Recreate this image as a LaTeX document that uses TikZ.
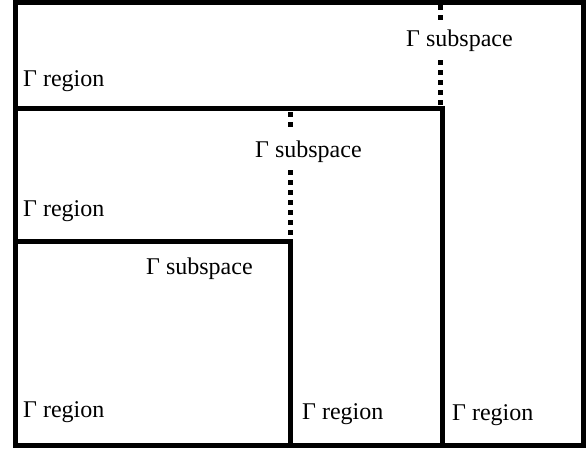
\documentclass[tikz,border=0pt]{standalone}
\usepackage{fontspec}
\setmainfont{Liberation Serif}
\begin{document}
\begin{tikzpicture}[x=1pt,y=-1pt,
  frame/.style={line width=5pt,line cap=rect},
  dotline/.style={line width=5pt,dash pattern=on 5pt off 5pt},
  lbl/.style={anchor=base west,inner sep=0pt,font=\fontsize{24}{28}\selectfont}]
\useasboundingbox (0,0) rectangle (586,448);
% regions
\coordinate (o1) at (15.5,2.5);
\coordinate (o2) at (583.5,445.5);
\draw[frame] (o1) rectangle (o2);
\coordinate (m1) at (15.5,108);
\coordinate (m2) at (442,108);
\coordinate (m3) at (442,445.5);
\draw[frame] (m1) -- (m2) -- (m3);
\coordinate (i1) at (15.5,241);
\coordinate (i2) at (290,241);
\coordinate (i3) at (290,445.5);
\draw[frame] (i1) -- (i2) -- (i3);
% labels
\node[lbl] (r1) at (23,86) {Γ region};
\node[lbl] (r2) at (23,216) {Γ region};
\node[lbl] (r3) at (23,417) {Γ region};
\node[lbl] (r4) at (302,419) {Γ region};
\node[lbl] (r5) at (452,420) {Γ region};
\node[lbl] (s1) at (406,46) {Γ subspace};
\node[lbl] (s2) at (255,157) {Γ subspace};
\node[lbl] (s3) at (146,274) {Γ subspace};
% dotted subspace lines
\coordinate (d1a) at (440,5);
\coordinate (d1b) at (440,20);
\coordinate (d1c) at (440,60);
\coordinate (d1d) at (440,106);
\draw[dotline] (d1a) -- (d1b);
\draw[dotline] (d1c) -- (d1d);
\coordinate (d2a) at (290,112);
\coordinate (d2b) at (290,127);
\coordinate (d2c) at (290,170);
\coordinate (d2d) at (290,240);
\draw[dotline] (d2a) -- (d2b);
\draw[dotline] (d2c) -- (d2d);
\end{tikzpicture}
\end{document}
